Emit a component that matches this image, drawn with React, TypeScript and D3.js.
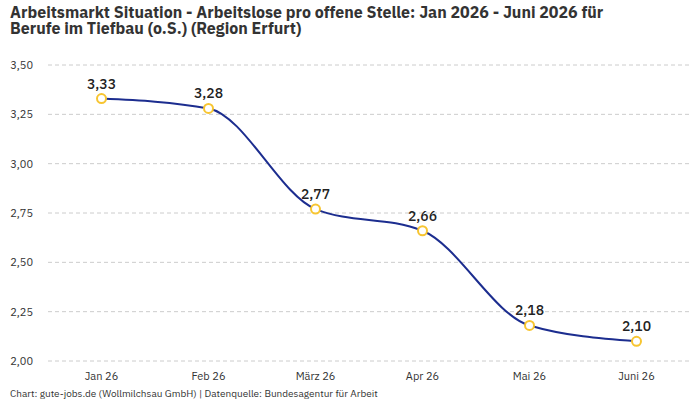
import * as d3 from "d3";

const months = ["Jan 26", "Feb 26", "März 26", "Apr 26", "Mai 26", "Juni 26"];
const values = [3.33, 3.28, 2.77, 2.66, 2.18, 2.1];
const yTicks = [2.0, 2.25, 2.5, 2.75, 3.0, 3.25, 3.5];

const fmt = (v: number) => v.toFixed(2).replace(".", ",");

export default function App() {
  const width = 700;
  const height = 400;
  const left = 48;
  const right = 690;
  const top = 65;
  const bottom = 361;

  const x = d3.scalePoint<string>().domain(months).range([left, right]).padding(0.5);
  const y = d3.scaleLinear().domain([2, 3.5]).range([bottom, top]);

  const line = d3
    .line<number>()
    .x((_, i) => x(months[i]) as number)
    .y((d) => y(d))
    .curve(d3.curveMonotoneX);

  const font = "'IBM Plex Sans', Roboto, 'Noto Sans', sans-serif";

  return (
    <svg
      width={width}
      height={height}
      style={{ position: "absolute", left: 0, top: 0, background: "#fff" }}
      fontFamily={font}
    >
      <text x={10} y={18} fontSize={16} fontWeight={700} fill="#333">
        Arbeitsmarkt Situation - Arbeitslose pro offene Stelle: Jan 2026 - Juni 2026 für
      </text>
      <text x={10} y={34} fontSize={16} fontWeight={700} fill="#333">
        Berufe im Tiefbau (o.S.) (Region Erfurt)
      </text>

      {/* Gitterlinien + y-Achse */}
      {yTicks.map((t) => (
        <g key={t}>
          <line
            x1={left}
            x2={right}
            y1={y(t)}
            y2={y(t)}
            stroke="#ccc"
            strokeDasharray="4,3"
          />
          <text
            x={33}
            y={y(t)}
            textAnchor="end"
            dominantBaseline="central"
            fontSize={11}
            fill="#333"
          >
            {fmt(t)}
          </text>
        </g>
      ))}

      {/* x-Achse */}
      {months.map((m) => (
        <text
          key={m}
          x={x(m)}
          y={380}
          textAnchor="middle"
          fontSize={11}
          fill="#333"
        >
          {m}
        </text>
      ))}

      <path d={line(values) ?? ""} fill="none" stroke="#1c2d8f" strokeWidth={2} />

      {values.map((v, i) => (
        <g key={i}>
          <circle
            cx={x(months[i])}
            cy={y(v)}
            r={4.5}
            fill="#fff"
            stroke="#f7c531"
            strokeWidth={2}
          />
          <text
            x={x(months[i])}
            y={y(v) - 10}
            textAnchor="middle"
            fontSize={14}
            fontWeight={500}
            fill="#222"
          >
            {fmt(v)}
          </text>
        </g>
      ))}

      <text x={10} y={397} fontSize={10} fill="#333">
        Chart: gute-jobs.de (Wollmilchsau GmbH) | Datenquelle: Bundesagentur für Arbeit
      </text>
    </svg>
  );
}
